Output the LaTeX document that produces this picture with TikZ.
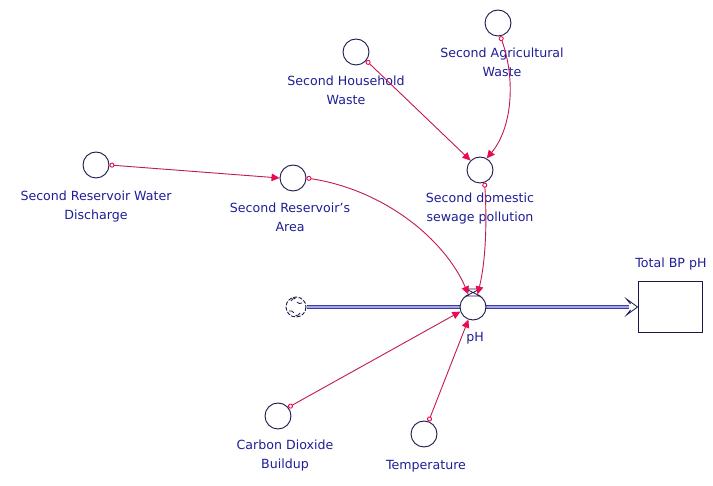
\documentclass[tikz,border=0pt]{standalone}
\usepackage{fontspec}
\setmainfont{DejaVu Sans}
\usetikzlibrary{arrows.meta}
\definecolor{linkred}{RGB}{195,25,85}
\definecolor{tipred}{RGB}{235,10,80}
\definecolor{inkblue}{RGB}{30,30,150}
\definecolor{rim}{RGB}{25,25,75}
\definecolor{pipeblue}{RGB}{60,60,180}
\tikzset{
  aux/.style={circle, draw=rim, fill=white, line width=0.9pt, minimum size=26pt, inner sep=0pt},
  lbl/.style={text=inkblue, align=center, font=\fontsize{12.6}{19}\selectfont, inner sep=0pt},
  conn/.style={draw=linkred, line width=0.9pt,
    {Circle[open, length=5pt, width=5pt, fill=white, color=tipred]}-{Triangle[length=8pt, width=7.5pt, color=tipred]}},
}
\begin{document}
\begin{tikzpicture}[x=1pt, y=-1pt]
\useasboundingbox (0,0) rectangle (713,486);
\fill[white] (0,0) rectangle (713,486);

% stock
\node[draw=rim, line width=0.9pt, minimum width=64pt, minimum height=51pt, inner sep=0pt] (stock) at (670,307) {};

% source cloud
\node[circle, minimum size=22pt, inner sep=0pt] (cloud) at (296,307) {};
\draw[rim, line width=0.9pt, dash pattern=on 4pt off 1.5pt] (cloud.center) circle (10);
\draw[rim, line width=0.8pt] (291,301) arc (200:280:4) (302,303) arc (60:140:4) (300,313) arc (20:100:4) (289,311) arc (250:330:4);

% flow pipe
\coordinate (pipeEnd) at ([xshift=-9pt]stock.west);
\draw[pipeblue, line width=1pt, double=pipeblue!45, double distance=2pt] (cloud.east) -- (pipeEnd);
\draw[rim, line width=0.8pt, fill=white] ([xshift=-7pt,yshift=-3pt]stock.west) -- ([xshift=-11pt,yshift=-8pt]stock.west) -- (stock.west) -- ([xshift=-11pt,yshift=8pt]stock.west) -- ([xshift=-7pt,yshift=3pt]stock.west);

% auxiliary variables
\node[aux] (srwd) at (96,165) {};
\node[aux] (sra)  at (293,178) {};
\node[aux] (shw)  at (356,52) {};
\node[aux] (saw)  at (498,23) {};
\node[aux] (sdsp) at (480,170) {};
\node[aux] (ph)   at (473,307) {};
\node[aux] (cdb)  at (278,416) {};
\node[aux] (temp) at (424,434) {};

% valve
\draw[rim, line width=0.8pt, fill=white] (466,289) -- (480,289) -- (466,296) -- (480,296) -- cycle;

% variable names
\node[lbl] (srwdT) at (96,207) {Second Reservoir Water\\Discharge};
\node[lbl] (sraT)  at (290,217) {Second Reservoir's\\Area};
\node[lbl] (shwT)  at (346,90) {Second Household\\Waste};
\node[lbl] (sawT)  at (502,62) {Second Agricultural\\Waste};
\node[lbl] (sdspT) at (480,209) {Second domestic\\sewage pollution};
\node[lbl] (phT)   at (475,338) {pH};
\node[lbl] (cdbT)  at (285,456) {Carbon Dioxide\\Buildup};
\node[lbl] (tempT) at (426,466) {Temperature};
\node[lbl] (stockT) at (671,264) {Total BP pH};

% causal links
\draw[conn] (srwd.east) -- (sra.west);
\draw[conn] (sra.east) .. controls (385,190) and (445,240) .. (ph.110);
\draw[conn] (shw.-40) -- (sdsp.135);
\draw[conn] (saw.-80) .. controls (516,80) and (512,128) .. (sdsp.60);
\draw[conn] (sdsp.-70) .. controls (487,220) and (486,260) .. (ph.70);
\draw[conn] (cdb.40) -- (ph.200);
\draw[conn] (temp.70) -- (ph.250);
\end{tikzpicture}
\end{document}
